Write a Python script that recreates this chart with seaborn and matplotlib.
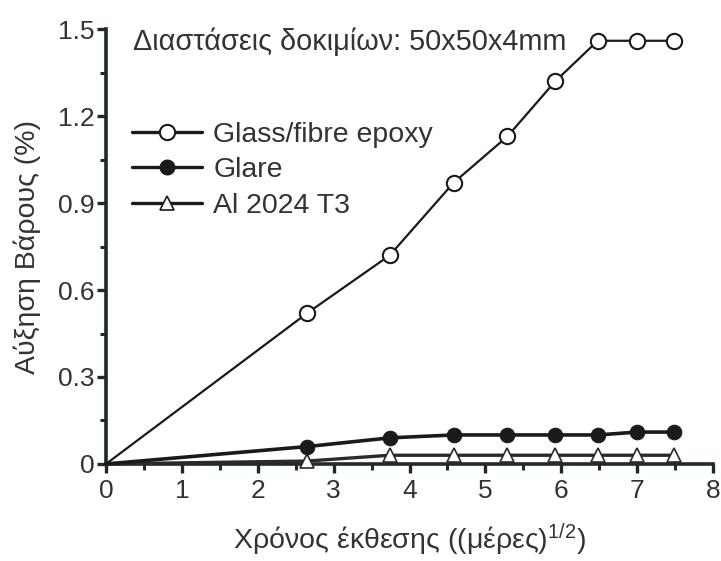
import matplotlib
matplotlib.use("Agg")
import matplotlib.pyplot as plt
import seaborn as sns
import pandas as pd
from matplotlib.lines import Line2D

# ---- data ----
x_days_sqrt = [0, 2.65, 3.74, 4.58, 5.29, 5.92, 6.48, 7.0, 7.48]
glass_epoxy = [0, 0.52, 0.72, 0.97, 1.13, 1.32, 1.46, 1.46, 1.46]
glare = [0, 0.06, 0.09, 0.10, 0.10, 0.10, 0.10, 0.11, 0.11]
al_2024 = [0, 0.01, 0.03, 0.03, 0.03, 0.03, 0.03, 0.03, 0.03]
series_names = ["Glass/fibre epoxy", "Glare", "Al 2024 T3"]
x_ticks = [0, 1, 2, 3, 4, 5, 6, 7, 8]
y_ticks = [0, 0.3, 0.6, 0.9, 1.2, 1.5]
y_tick_labels = ["0", "0.3", "0.6", "0.9", "1.2", "1.5"]
title_text = "Διαστάσεις δοκιμίων: 50x50x4mm"
x_label = "Χρόνος έκθεσης ((μέρες)$^{\\mathrm{1/2}}$)"
y_label = "Αύξηση Βάρους (%)"

sns.set_theme(style="ticks")
main_font = "Liberation Sans"
plt.rcParams["font.family"] = [main_font, "DejaVu Sans"]
plt.rcParams["mathtext.fontset"] = "custom"
plt.rcParams["mathtext.rm"] = main_font
plt.rcParams["mathtext.it"] = main_font

FS_TICK = 19
FS_TXT = 20.5
TXT = "#333333"
AX = "#1f2a2a"

fig = plt.figure(figsize=(7.21, 5.61), dpi=100)
ax = fig.add_axes([0.147, 0.173, 0.842, 0.775])

df = pd.DataFrame({"x": x_days_sqrt, "glass": glass_epoxy, "glare": glare, "al": al_2024})

sns.lineplot(data=df, x="x", y="al", ax=ax, color="#2a2a2a", lw=2.4,
             marker="^", markersize=10.5, markerfacecolor="white",
             markeredgecolor="#2a2a2a", markeredgewidth=1.2,
             markevery=slice(1, None), zorder=3, clip_on=False)
sns.lineplot(data=df, x="x", y="glare", ax=ax, color="#1a1a1a", lw=2.6,
             marker="o", markersize=10.5, markerfacecolor="#1a1a1a",
             markeredgecolor="#1a1a1a", markevery=slice(1, None), zorder=4,
             clip_on=False)
sns.lineplot(data=df, x="x", y="glass", ax=ax, color="#1a1a1a", lw=1.6,
             marker="o", markersize=11, markerfacecolor="white",
             markeredgecolor="#1a1a1a", markeredgewidth=1.5,
             markevery=slice(1, None), zorder=5, clip_on=False)

ax.set_xlim(0, 8)
ax.set_ylim(0, 1.5)
ax.set_xticks(x_ticks)
ax.set_xticks([v + 0.5 for v in x_ticks[:-1]], minor=True)
ax.set_yticks(y_ticks)
ax.set_yticklabels(y_tick_labels)
ax.set_yticks([v + 0.15 for v in y_ticks[:-1]], minor=True)

for s in ["top", "right"]:
    ax.spines[s].set_visible(False)
for s in ["left", "bottom"]:
    ax.spines[s].set_linewidth(2.6)
    ax.spines[s].set_color(AX)

ax.tick_params(axis="both", which="major", direction="out", length=6.5, width=2.4,
               color=AX, labelsize=FS_TICK, labelcolor=TXT)
ax.tick_params(axis="x", which="major", pad=4)
ax.tick_params(axis="y", which="major", pad=2)
ax.tick_params(axis="both", which="minor", direction="out", length=4, width=2.2,
               color=AX)
ax.set_facecolor("white")
fig.patch.set_facecolor("white")

ax.set_xlabel(x_label, fontsize=FS_TXT, color=TXT, labelpad=14)
ax.set_ylabel(y_label, fontsize=FS_TXT, color=TXT, labelpad=12)

fig.text(133 / 721, 1 - 42 / 561, title_text, fontsize=20.8, color=TXT,
         ha="left", va="center")

handles = [
    Line2D([], [], color="#1a1a1a", lw=2.4, marker="o", markersize=11,
           markerfacecolor="white", markeredgecolor="#1a1a1a", markeredgewidth=1.5),
    Line2D([], [], color="#1a1a1a", lw=2.4, marker="o", markersize=10.5,
           markerfacecolor="#1a1a1a", markeredgecolor="#1a1a1a"),
    Line2D([], [], color="#1a1a1a", lw=2.4, marker="^", markersize=10.5,
           markerfacecolor="white", markeredgecolor="#1a1a1a", markeredgewidth=1.2),
]
leg = fig.legend(handles, series_names, loc="upper left",
                 bbox_to_anchor=(132 / 721, 1 - 122 / 561), frameon=False,
                 fontsize=FS_TXT, handlelength=2.45, handletextpad=0.4,
                 labelspacing=0.33, borderpad=0, borderaxespad=0)
for t in leg.get_texts():
    t.set_color(TXT)

fig.savefig("out.png", dpi=100, facecolor="white")
